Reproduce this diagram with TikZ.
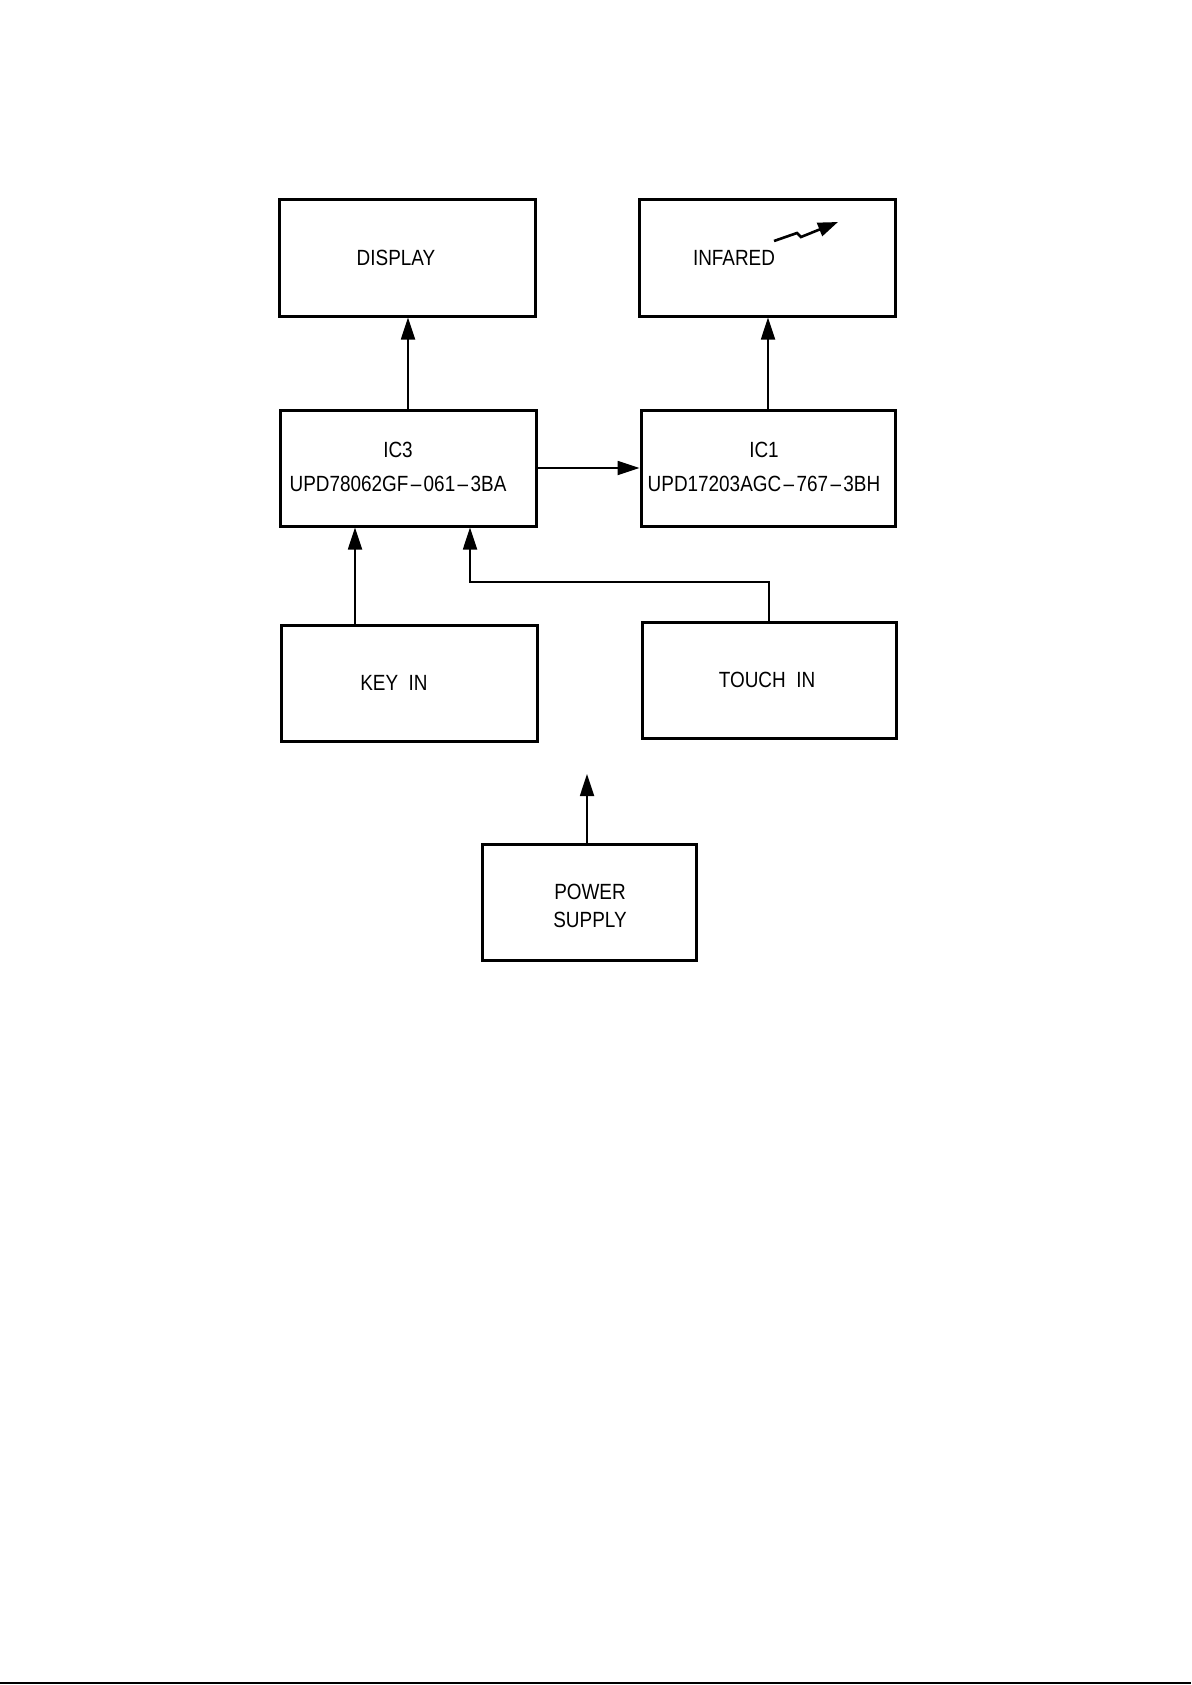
\documentclass[tikz,border=0pt]{standalone}
\usepackage{fontspec}
\setmainfont{Liberation Sans}[FakeStretch=0.86]
\usetikzlibrary{arrows.meta}

\newcommand{\wdash}{\kern1.2pt--\kern1.2pt}

\begin{document}
\begin{tikzpicture}[x=0.5pt, y=-0.5pt,
  every node/.style={font=\fontsize{11}{17}\selectfont},
  box/.style={draw, line width=1.5pt, minimum width=#1, minimum height=58pt, inner sep=0pt},
  box/.default=128pt,
  conn/.style={line width=0.9pt, -{Triangle[length=11pt, width=7pt]}},
  lbl/.style={align=center, inner sep=0pt}]
  \useasboundingbox (0,0) rectangle (1191,1685);

  % Blocks
  \node[box] (disp) at (407,258) {};
  \node[box] (infra) at (767,258) {};
  \node[box] (icthree) at (408,468) {};
  \node[box=127pt] (icone) at (768,468) {};
  \node[box] (keyin) at (409,683) {};
  \node[box=127pt] (touchin) at (769,680) {};
  \node[box=107pt] (power) at (589,902) {};

  % Texts
  \node[lbl] (disptxt) at (396,258) {DISPLAY};
  \node[lbl] (infratxt) at (734,258) {INFARED};
  \node[lbl] (icthreetxt) at (398,467) {IC3\\UPD78062GF\wdash 061\wdash 3BA};
  \node[lbl] (iconetxt) at (764,467) {IC1\\UPD17203AGC\wdash 767\wdash 3BH};
  \node[lbl] (keyintxt) at (394,683) {KEY\ \ IN};
  \node[lbl] (touchintxt) at (767,680) {TOUCH\ \ IN};
  \node[lbl, font=\fontsize{11}{14}\selectfont] (powertxt) at (590,906) {POWER\\SUPPLY};

  % Infrared beam
  \draw[line width=1.3pt, -{Triangle[length=10pt, width=7pt]}]
    (774,241) -- (797,233) -- (801,237) -- (838,222);

  % Signal paths
  \draw[conn] (icthree.north) -- (icthree.north |- disp.south);
  \draw[conn] (icone.north) -- (icone.north |- infra.south);
  \draw[conn] (icthree.east) -- (icone.west);
  \draw[conn] ([xshift=-27pt]keyin.north) -- ([xshift=-27pt]keyin.north |- icthree.south);
  \coordinate (touchbend) at (470,582);
  \draw[conn] (touchin.north) |- (touchbend) -- (touchbend |- icthree.south);
  \coordinate (pwrend) at (587,774);
  \draw[conn] (pwrend |- power.north) -- (pwrend);

  % Edge of the page
  \draw[line width=1pt] (0,1683) -- (1191,1683);
\end{tikzpicture}
\end{document}
